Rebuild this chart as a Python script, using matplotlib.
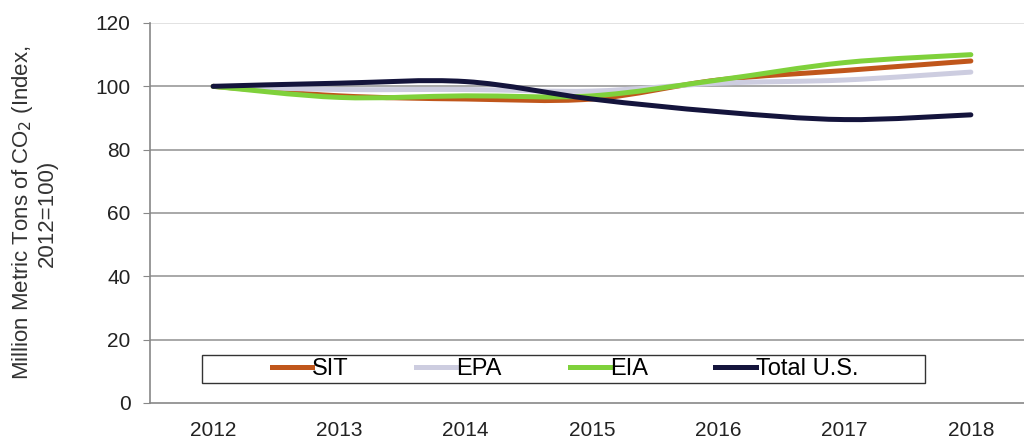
import matplotlib
matplotlib.use("Agg")
import matplotlib.pyplot as plt
import numpy as np
from matplotlib.path import Path
from matplotlib.patches import PathPatch, Rectangle
from matplotlib.lines import Line2D

plt.rcParams['font.family'] = ['Liberation Sans', 'DejaVu Sans']

years = ["2012", "2013", "2014", "2015", "2016", "2017", "2018"]
sit = [100, 97, 96, 96, 102, 105, 108]
epa = [100, 99, 99, 98.5, 101, 102, 104.5]
eia = [100, 96.5, 97, 97, 102, 107.5, 110]
total_us = [100, 101, 101.5, 96, 92, 89.5, 91]

series = [("SIT", sit, "#c0561b"), ("EPA", epa, "#cdcde0"),
          ("EIA", eia, "#7fd13b"), ("Total U.S.", total_us, "#14143c")]


def smooth_path(x, y, t=1/6):
    x = np.asarray(x, float); y = np.asarray(y, float)
    n = len(x)
    verts = [(x[0], y[0])]
    codes = [Path.MOVETO]
    for i in range(n - 1):
        p0 = np.array([x[max(i - 1, 0)], y[max(i - 1, 0)]])
        p1 = np.array([x[i], y[i]])
        p2 = np.array([x[i + 1], y[i + 1]])
        p3 = np.array([x[min(i + 2, n - 1)], y[min(i + 2, n - 1)]])
        c1 = p1 + (p2 - p0) * t
        c2 = p2 - (p3 - p1) * t
        verts += [tuple(c1), tuple(c2), tuple(p2)]
        codes += [Path.CURVE4] * 3
    return Path(verts, codes)


W, H = 1024, 441
fig = plt.figure(figsize=(W / 100, H / 100), dpi=100)
ax = fig.add_axes([150 / W, (H - 403) / H, (1034 - 150) / W, (403 - 23) / H])

xs = np.arange(len(years))
for name, vals, col in series:
    p = smooth_path(xs, vals)
    ax.add_patch(PathPatch(p, facecolor='none', edgecolor=col, lw=3.6,
                           capstyle='round', joinstyle='round'))

ax.set_xlim(-0.5, len(years) - 0.5)
ax.set_ylim(0, 120)
ax.set_yticks(range(0, 121, 20))
ax.set_xticks(xs)
ax.set_xticklabels(years)
ax.tick_params(axis='both', labelsize=15, colors='#222222')
ax.tick_params(axis='x', length=0, pad=13)
ax.tick_params(axis='y', length=5, color='#888888', pad=9)
for yv in range(20, 120, 20):
    ax.axhline(yv, color='#999999', lw=1.2, zorder=0)
ax.axhline(120, color='#dddddd', lw=1.2, zorder=0)
for s in ['top', 'right']:
    ax.spines[s].set_visible(False)
for s in ['left', 'bottom']:
    ax.spines[s].set_color('#888888')
    ax.spines[s].set_linewidth(1.2)

fig.text(34 / W, 1 - 213 / H, "Million Metric Tons of CO$_2$ (Index,\n2012=100)",
         fontsize=16, color='#333333', linespacing=1.1, rotation=90,
         ha='center', va='center')

# legend frame
fig.patches.append(Rectangle((202 / W, 1 - 383 / H), (925 - 202) / W, 28 / H,
                             transform=fig.transFigure, fill=False,
                             edgecolor='#333333', lw=1.0))
handles = [Line2D([], [], color=c, lw=3.6) for _, _, c in series]
leg = fig.legend(handles, [n for n, _, _ in series], loc='center left',
                 bbox_to_anchor=(272 / W, 1 - 369 / H, (858 - 272) / W, 0.0001),
                 mode='expand', ncol=4, fontsize=17, frameon=False,
                 handlelength=1.7, handletextpad=0.0, borderpad=0, borderaxespad=0)

fig.savefig("out.png", dpi=100)
